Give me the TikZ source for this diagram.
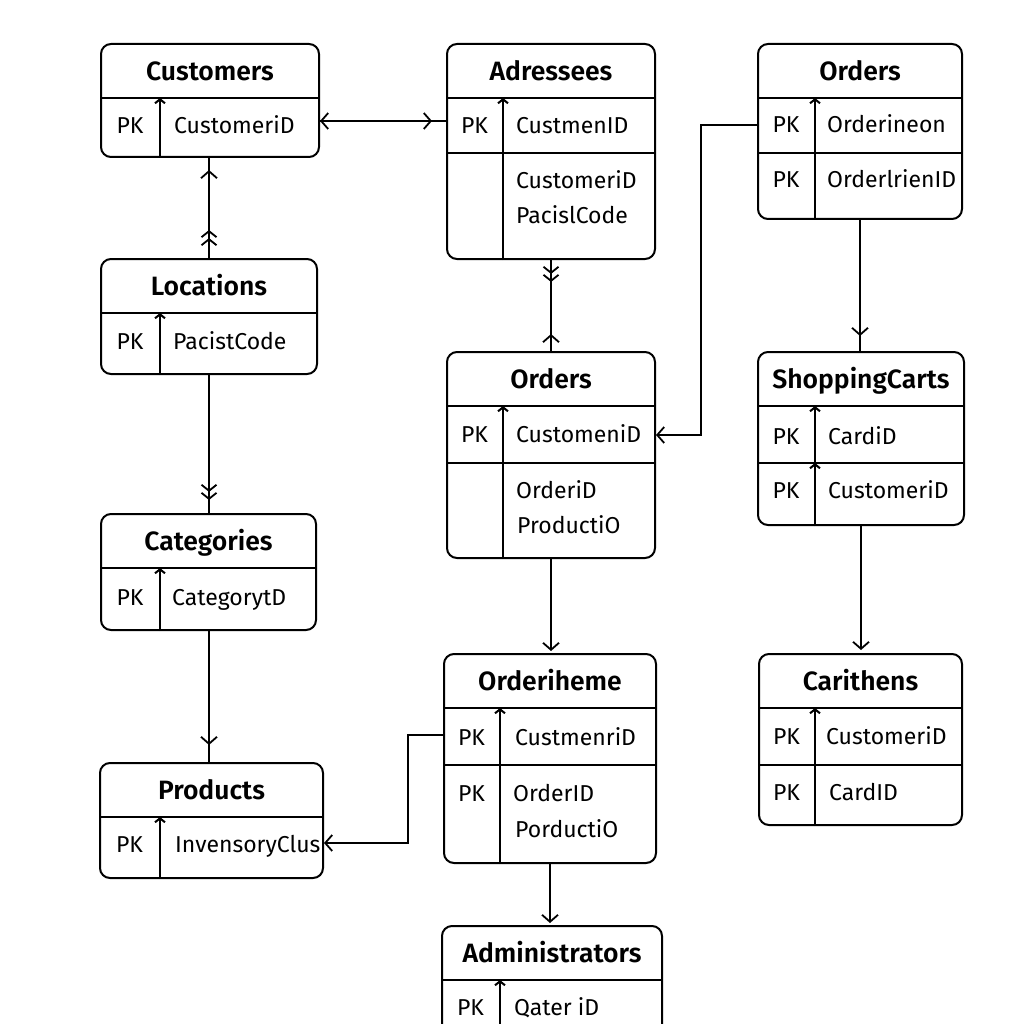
\documentclass[tikz,border=0pt]{standalone}
\usepackage{fontspec}
\setmainfont{Fira Sans}[BoldFont={Fira Sans SemiBold}]
\usetikzlibrary{arrows.meta, positioning, calc}

\newcommand{\fldfont}{\fontsize{23}{28}\selectfont}

% table frame: name, x, y, width, height, title, divider offset
\newcommand{\ertable}[7]{%
  \node[tbl, minimum width=#4pt, minimum height=#5pt, anchor=north west] (#1) at (#2,#3) {};
  \node[ttl] (#1-t) at ($(#1.north)+(0,-37.5)$) {#6};
  \draw[rule] ($(#1.north west)+(0,-55)$) -- ($(#1.north east)+(0,-55)$);
  \draw[rule, tick] ($(#1.south west)+(#7,0)$) -- ($(#1.north west)+(#7,-55)$);
}

\begin{document}
\begin{tikzpicture}[
    x=1pt, y=1pt,
    % Define styles
    tbl/.style={
        draw,
        rounded corners=10pt,
        line width=2pt,
        inner sep=0pt
    },
    ttl/.style={
        font=\fontsize{26.5}{30}\selectfont\bfseries,
        anchor=base,
        inner sep=0pt
    },
    pk/.style={font=\fldfont, anchor=base, inner sep=0pt},
    fld/.style={font=\fldfont, anchor=base west, inner sep=0pt},
    rule/.style={line width=2pt},
    tick/.style={-{Straight Barb[length=4pt, width=10pt]}},
    link/.style={draw, line width=1.8pt},
    one/.style={-{Straight Barb[length=7pt, width=16pt]}},
    two/.style={-{Straight Barb[length=6pt, width=15pt] Straight Barb[length=6pt, width=15pt]}},
    both/.style={{Straight Barb[length=7pt, width=16pt]}-}
]
\useasboundingbox (0,0) rectangle (1024,-1024);
\clip (0,0) rectangle (1024,-1024);

% Left column
\ertable{cust}{100}{-43}{218}{113}{Customers}{60}
\node[pk] (cust-k1) at ($(cust.north west)+(30,-91)$) {PK};
\node[fld] (cust-f1) at ($(cust.north west)+(74,-91)$) {CustomeriD};

\ertable{loc}{100}{-258}{216}{115}{Locations}{60}
\node[pk] (loc-k1) at ($(loc.north west)+(30,-91)$) {PK};
\node[fld] (loc-f1) at ($(loc.north west)+(73,-91)$) {PacistCode};

\ertable{cat}{100}{-513}{215}{116}{Categories}{60}
\node[pk] (cat-k1) at ($(cat.north west)+(30,-92)$) {PK};
\node[fld] (cat-f1) at ($(cat.north west)+(72,-92)$) {CategorytD};

\ertable{prod}{99}{-762}{223}{115}{Products}{61}
\node[pk] (prod-k1) at ($(prod.north west)+(30.5,-90)$) {PK};
\node[fld] (prod-f1) at ($(prod.north west)+(76,-90)$) {InvensoryClus};

% Middle column
\ertable{addr}{446}{-43}{208}{215}{Adressees}{57}
\draw[rule] ($(addr.north west)+(0,-110)$) -- ($(addr.north east)+(0,-110)$);
\node[pk] (addr-k1) at ($(addr.north west)+(28.5,-91)$) {PK};
\node[fld] (addr-f1) at ($(addr.north west)+(70,-91)$) {CustmenID};
\node[fld] (addr-f2) at ($(addr.north west)+(70,-146)$) {CustomeriD};
\node[fld] (addr-f3) at ($(addr.north west)+(70,-181)$) {PacislCode};

\ertable{ordB}{446}{-351}{208}{206}{Orders}{57}
\draw[rule] ($(ordB.north west)+(0,-112)$) -- ($(ordB.north east)+(0,-112)$);
\node[pk] (ordB-k1) at ($(ordB.north west)+(28.5,-91)$) {PK};
\node[fld] (ordB-f1) at ($(ordB.north west)+(70,-91)$) {CustomeniD};
\node[fld] (ordB-f2) at ($(ordB.north west)+(70,-147)$) {OrderiD};
\node[fld] (ordB-f3) at ($(ordB.north west)+(71,-182)$) {ProductiO};

\ertable{item}{443}{-653}{212}{209}{Orderiheme}{57}
\draw[rule] ($(item.north west)+(0,-112)$) -- ($(item.north east)+(0,-112)$);
\node[pk] (item-k1) at ($(item.north west)+(28.5,-92)$) {PK};
\node[fld] (item-f1) at ($(item.north west)+(72,-92)$) {CustmenriD};
\node[pk] (item-k2) at ($(item.north west)+(28.5,-148)$) {PK};
\node[fld] (item-f2) at ($(item.north west)+(70,-148)$) {OrderID};
\node[fld] (item-f3) at ($(item.north west)+(72,-184)$) {PorductiO};

\ertable{admin}{441}{-925}{220}{130}{Administrators}{59}
\node[pk] (admin-k1) at ($(admin.north west)+(29.5,-90)$) {PK};
\node[fld] (admin-f1) at ($(admin.north west)+(73,-90)$) {Qater iD};

% Right column
\ertable{ordA}{757}{-43}{204}{175}{Orders}{58}
\draw[rule] ($(ordA.north west)+(0,-110)$) -- ($(ordA.north east)+(0,-110)$);
\node[pk] (ordA-k1) at ($(ordA.north west)+(29,-90)$) {PK};
\node[fld] (ordA-f1) at ($(ordA.north west)+(70,-90)$) {Orderineon};
\node[pk] (ordA-k2) at ($(ordA.north west)+(29,-145)$) {PK};
\node[fld] (ordA-f2) at ($(ordA.north west)+(70,-145)$) {OrderlrienID};

\ertable{cart}{757}{-351}{206}{173}{ShoppingCarts}{58}
\draw[rule] ($(cart.north west)+(0,-112)$) -- ($(cart.north east)+(0,-112)$);
\draw[rule, tick] ($(cart.south west)+(58,0)$) -- ($(cart.north west)+(58,-112)$);
\node[pk] (cart-k1) at ($(cart.north west)+(29,-93)$) {PK};
\node[fld] (cart-f1) at ($(cart.north west)+(71,-93)$) {CardiD};
\node[pk] (cart-k2) at ($(cart.north west)+(29,-147)$) {PK};
\node[fld] (cart-f2) at ($(cart.north west)+(71,-147)$) {CustomeriD};

\ertable{cith}{758}{-653}{203}{171}{Carithens}{57}
\draw[rule] ($(cith.north west)+(0,-112)$) -- ($(cith.north east)+(0,-112)$);
\node[pk] (cith-k1) at ($(cith.north west)+(28.5,-91)$) {PK};
\node[fld] (cith-f1) at ($(cith.north west)+(68,-91)$) {CustomeriD};
\node[pk] (cith-k2) at ($(cith.north west)+(28.5,-147)$) {PK};
\node[fld] (cith-f2) at ($(cith.north west)+(71,-147)$) {CardID};

% Draw edges
% Customers <-> Adressees
\path[link, both] ($(cust.north east)+(0,-78)$) -- ($(addr.north west)+(0,-78)$);
\path[link, one, shorten >=14pt] ($(cust.north east)+(0,-78)$) -- ($(addr.north west)+(0,-78)$);

% Customers - Locations
\path[link] (loc.north) -- (loc.north |- cust.south);
\path[link, one, shorten >=12pt] (loc.north) -- (loc.north |- cust.south);
\path[link, two, shorten >=72pt] (loc.north) -- (loc.north |- cust.south);

% Locations - Categories
\path[link] (loc.south) -- (loc.south |- cat.north);
\path[link, two, shorten >=13pt] (loc.south) -- (loc.south |- cat.north);

% Categories - Products
\path[link] ([xshift=0.5pt]cat.south) -- ([xshift=0.5pt]cat.south |- prod.north);
\path[link, one, shorten >=17pt] ([xshift=0.5pt]cat.south) -- ([xshift=0.5pt]cat.south |- prod.north);

% Adressees - Orders
\path[link] (addr.south) -- (addr.south |- ordB.north);
\path[link, two, shorten >=69pt] (addr.south) -- (addr.south |- ordB.north);
\path[link, one, shorten >=74pt] (ordB.north) -- (ordB.north |- addr.south);

% Orders (right) -> Orders (middle)
\path[link, one] ($(ordA.north west)+(0,-82)$) -- ++(-56,0) |- ($(ordB.north east)+(0,-84)$);

% Orders -> ShoppingCarts -> Carithens
\path[link] (ordA.south) -- (ordA.south |- cart.north);
\path[link, one, shorten >=15pt] (ordA.south) -- (ordA.south |- cart.north);
\path[link, one, shorten >=3pt] (cart.south) -- (cart.south |- cith.north);

% Orders -> Orderiheme -> Administrators
\path[link, one, shorten >=2pt] (ordB.south) -- (ordB.south |- item.north);
\path[link, one, shorten >=2pt] (item.south) -- (item.south |- admin.north);

% Orderiheme -> Products
\path[link, one] ($(item.north west)+(0,-82)$) -- ++(-35,0) |- ($(prod.north east)+(0,-81)$);

\end{tikzpicture}
\end{document}
